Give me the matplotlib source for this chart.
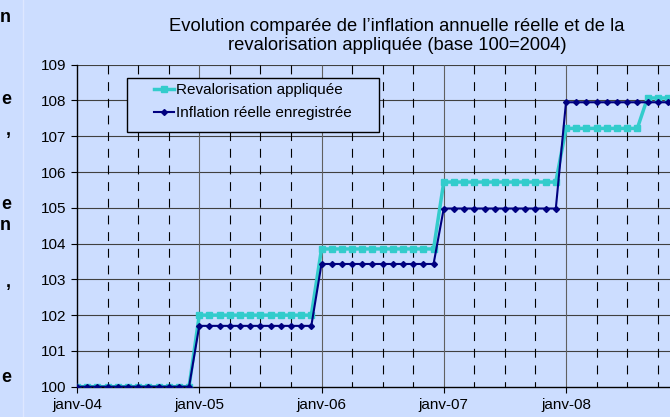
import matplotlib
matplotlib.use("Agg")
import matplotlib.pyplot as plt
from matplotlib.patches import Rectangle
from matplotlib.lines import Line2D

plt.rcParams['font.family'] = ['Liberation Sans', 'DejaVu Sans']

# mois depuis janv-04 (0 = janv-04)
mois = list(range(60))
reval = [100.0, 100.0, 100.0, 100.0, 100.0, 100.0, 100.0, 100.0, 100.0, 100.0, 100.0, 100.0,
         102.0, 102.0, 102.0, 102.0, 102.0, 102.0, 102.0, 102.0, 102.0, 102.0, 102.0, 102.0,
         103.85, 103.85, 103.85, 103.85, 103.85, 103.85, 103.85, 103.85, 103.85, 103.85, 103.85, 103.85,
         105.72, 105.72, 105.72, 105.72, 105.72, 105.72, 105.72, 105.72, 105.72, 105.72, 105.72, 105.72,
         107.22, 107.22, 107.22, 107.22, 107.22, 107.22, 107.22, 107.22, 108.07, 108.07, 108.07, 108.07]
inflation = [100.0, 100.0, 100.0, 100.0, 100.0, 100.0, 100.0, 100.0, 100.0, 100.0, 100.0, 100.0,
             101.70, 101.70, 101.70, 101.70, 101.70, 101.70, 101.70, 101.70, 101.70, 101.70, 101.70, 101.70,
             103.43, 103.43, 103.43, 103.43, 103.43, 103.43, 103.43, 103.43, 103.43, 103.43, 103.43, 103.43,
             104.98, 104.98, 104.98, 104.98, 104.98, 104.98, 104.98, 104.98, 104.98, 104.98, 104.98, 104.98,
             107.95, 107.95, 107.95, 107.95, 107.95, 107.95, 107.95, 107.95, 107.95, 107.95, 107.95, 107.95]
annees = [0, 12, 24, 36, 48]
annees_labels = ["janv-04", "janv-05", "janv-06", "janv-07", "janv-08"]
trimestres = [m for m in range(3, 60, 3) if m % 12 != 0]

bg = '#CCDDFF'
W, H = 670, 417

fig = plt.figure(figsize=(6.7, 4.17), dpi=100, facecolor=bg)
ax = fig.add_axes([77 / W, 30.3 / H, 593 / W, 322 / H], facecolor=bg)

# grille
for v in range(101, 110):
    ax.axhline(v, color='#404040', lw=0.8, zorder=1)
ax.vlines(annees[1:], 109, 100, color='#606060', lw=0.8, zorder=1)
ax.vlines(trimestres, 109, 100, color='black', lw=0.8, linestyles=(0, (8, 7)), zorder=1)

# series
l1, = ax.plot(mois, reval, color='#33CCCC', lw=2.5, marker='s', ms=3.8, zorder=3,
              label="Revalorisation appliquée")
l2, = ax.plot(mois, inflation, color='#000080', lw=1.5, marker='D', ms=3.0, zorder=4,
              label="Inflation réelle enregistrée")

ax.set_xlim(0, 593 / 10.1875)
ax.set_ylim(100, 109)
ax.set_yticks(range(100, 110))
ax.set_xticks(annees)
ax.set_xticklabels(annees_labels)
ax.tick_params(axis='both', direction='out', length=4, width=0.8, labelsize=11, pad=4)
for s in ['top', 'right']:
    ax.spines[s].set_visible(False)
for s in ['left', 'bottom']:
    ax.spines[s].set_color('black')
    ax.spines[s].set_linewidth(1)

# legende avec cadre
ax.add_patch(Rectangle((127 / W, 1 - 132 / H), (379 - 127) / W, (132 - 78) / H,
                       transform=fig.transFigure, facecolor=bg, edgecolor='black',
                       lw=1, zorder=5, clip_on=False))
leg = ax.legend(handles=[l1, l2], loc='upper left', bbox_to_anchor=(154 / W, 1 - 83 / H),
                bbox_transform=fig.transFigure, frameon=False, fontsize=11,
                handlelength=1.3, handletextpad=0.15, labelspacing=0.62,
                borderpad=0, borderaxespad=0)
leg.set_zorder(6)

# titre (deux lignes)
fig.text(397 / W, 1 - 30.7 / H, "Evolution comparée de l’inflation annuelle réelle et de la",
         ha='center', va='baseline', fontsize=13.2)
fig.text(397 / W, 1 - 50 / H, "revalorisation appliquée (base 100=2004)",
         ha='center', va='baseline', fontsize=13.2)

# restes du texte du document a gauche
for y, ch in [(17, 'n'), (99, 'e'), (130, ','), (204, 'e'), (225, 'n'), (283, ','), (378, 'e')]:
    fig.text(11 / W, 1 - y / H, ch, ha='right', va='center', fontsize=13, fontweight='bold')
fig.add_artist(Line2D([22.5 / W, 22.5 / W], [0, 1], color='#DDE7FF', lw=1))

fig.savefig('out.png', dpi=100, facecolor=bg)
